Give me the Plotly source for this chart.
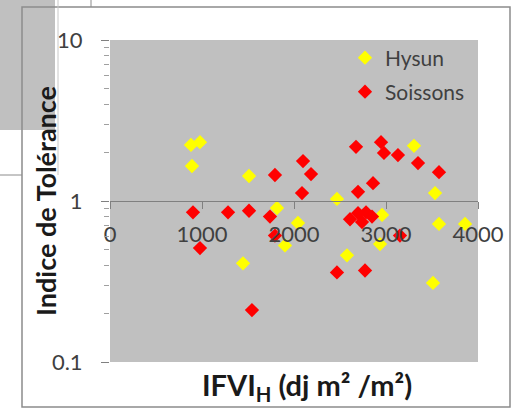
import plotly.graph_objects as go

# ---- data ----
hysun_x = [880, 978, 891, 1511, 1815, 2467, 3304, 3533, 1446, 2043, 1902, 2576, 2957, 2935, 3576, 3859, 3511]
hysun_y = [2.23, 2.32, 1.65, 1.43, 0.905, 1.03, 2.20, 1.12, 0.41, 0.73, 0.53, 0.46, 0.82, 0.54, 0.72, 0.72, 0.31]

soissons_x = [902, 1283, 1511, 978, 1543, 1793, 2098, 2185, 2087, 2674, 2696, 1739, 1793, 2467, 2772,
              3152, 2946, 2978, 3130, 3348, 3576, 2859, 2609, 2696, 2783, 2848, 2739]
soissons_y = [0.85, 0.85, 0.87, 0.51, 0.21, 1.45, 1.77, 1.47, 1.12, 2.17, 1.14, 0.80, 0.61, 0.36, 0.37,
              0.61, 2.32, 1.99, 1.93, 1.72, 1.51, 1.29, 0.77, 0.84, 0.85, 0.80, 0.74]

x_ticks = [0, 1000, 2000, 3000, 4000]
y_ticks = [0.1, 1, 10]
y_tick_labels = ["0.1", "1", "10"]
y_minor = [0.2, 0.3, 0.4, 0.5, 0.6, 0.7, 0.8, 0.9, 2, 3, 4, 5, 6, 7, 8, 9]

W, H = 516, 409
L, R, T, B = 110, 478, 40, 362

def px(x):
    return (x - L) / (R - L)

def py(y):
    return (B - y) / (B - T)

fig = go.Figure()
fig.add_trace(go.Scatter(x=hysun_x, y=hysun_y, mode="markers", name="Hysun",
                         marker=dict(symbol="diamond", size=11, color="#FFFF00"),
                         legend="legend"))
fig.add_trace(go.Scatter(x=soissons_x, y=soissons_y, mode="markers", name="Soissons",
                         marker=dict(symbol="diamond", size=11, color="#FF0000"),
                         legend="legend2"))

tick_font = dict(family="Lato", size=22, color="#404040")

fig.update_layout(
    width=W, height=H,
    margin=dict(l=L, r=W - R, t=T, b=H - B, pad=0),
    paper_bgcolor="white",
    plot_bgcolor="#C0C0C0",
    font=dict(family="Lato"),
    legend=dict(x=px(345), y=py(58), xanchor="left", yanchor="middle",
                bgcolor="rgba(0,0,0,0)", font=dict(family="Lato", size=21, color="#404040")),
    legend2=dict(x=px(345), y=py(92), xanchor="left", yanchor="middle",
                 bgcolor="rgba(0,0,0,0)", font=dict(family="Lato", size=21, color="#404040")),
    xaxis=dict(range=[0, 4000], tickvals=x_ticks, ticks="outside", ticklen=7, tickcolor="#808080",
               showline=True, linecolor="#808080", linewidth=1, showgrid=False, zeroline=False,
               anchor="free", position=0.5, tickfont=tick_font, ticklabelstandoff=7),
    yaxis=dict(type="log", range=[-1, 1], tickvals=y_ticks, ticktext=y_tick_labels,
               ticks="outside", ticklen=8, tickcolor="#808080", showgrid=False, zeroline=False,
               showline=False, tickfont=tick_font, ticklabelstandoff=14,
               minor=dict(tickvals=y_minor, ticks="outside", ticklen=5, tickcolor="#A0A0A0",
                          showgrid=False)),
    showlegend=True,
)

# axis titles
fig.add_annotation(text="<b>IFVI<sub>H</sub> (dj m² /m²)</b>", x=px(307), y=py(386),
                   xref="paper", yref="paper", xanchor="center", yanchor="middle", showarrow=False,
                   font=dict(family="Lato", size=29, color="#1a1a1a"))
fig.add_annotation(text="<b>Indice de Tolérance</b>", x=px(45), y=py(201), textangle=-90,
                   xref="paper", yref="paper", xanchor="center", yanchor="middle", showarrow=False,
                   font=dict(family="Lato", size=27, color="#1a1a1a"))

# surrounding decorations (frame and neighbouring panel)
fig.add_shape(type="rect", xref="paper", yref="paper", x0=px(0), x1=px(55), y0=py(0), y1=py(130),
              fillcolor="#C0C0C0", line=dict(width=0), layer="below")
fig.add_shape(type="line", xref="paper", yref="paper", x0=px(58), x1=px(58), y0=py(0), y1=py(175),
              line=dict(color="#C8C8C8", width=1))
fig.add_shape(type="line", xref="paper", yref="paper", x0=px(0), x1=px(22), y0=py(175), y1=py(175),
              line=dict(color="#8C8C8C", width=1))
fig.add_shape(type="line", xref="paper", yref="paper", x0=px(91), x1=px(91), y0=py(0), y1=py(7),
              line=dict(color="#8C8C8C", width=1))
fig.add_shape(type="rect", xref="paper", yref="paper", x0=px(22), x1=px(510), y0=py(7), y1=py(407),
              fillcolor="rgba(0,0,0,0)", line=dict(color="#8C8C8C", width=1.5), layer="below")

fig.write_html("out.html")
